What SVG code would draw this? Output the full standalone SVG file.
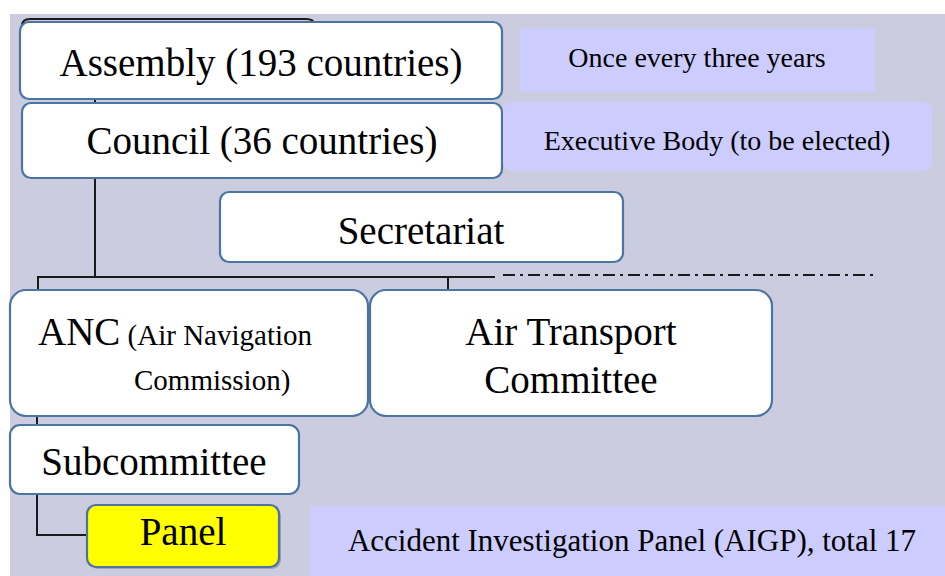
<svg xmlns="http://www.w3.org/2000/svg" width="945" height="576" viewBox="0 0 945 576">
  <style>
    .box { fill: #ffffff; stroke: #4a75a0; stroke-width: 2.2; }
    .note { fill: #ccccff; }
    .wire { fill: none; stroke: #1a1a1a; stroke-width: 2; }
    .dashwire { fill: none; stroke: #1a1a1a; stroke-width: 2; stroke-dasharray: 12 5 3 5; }
    text { font-family: "Liberation Serif", "Times New Roman", serif; fill: #000000; }
    .big { font-size: 39px; }
    .sub { font-size: 29px; }
    .note-text { font-size: 28px; }
    .note-wide { font-size: 31px; }
  </style>

  <!-- page background -->
  <rect x="0" y="0" width="945" height="576" fill="#ffffff"/>
  <rect x="10" y="14" width="935" height="562" fill="#cccce0"/>

  <!-- connectors -->
  <g id="connectors">
    <path class="wire" d="M 22 26 Q 22 19 30 19 L 306 19 Q 314 19 314 24"/>
    <line class="wire" x1="95" y1="99" x2="95" y2="104"/>
    <line class="wire" x1="95" y1="178" x2="95" y2="278"/>
    <line class="wire" x1="38" y1="277" x2="495" y2="277"/>
    <line class="dashwire" x1="503" y1="275" x2="877" y2="275"/>
    <line class="wire" x1="38" y1="276" x2="38" y2="291"/>
    <line class="wire" x1="448" y1="277" x2="448" y2="290"/>
    <line class="wire" x1="37" y1="415" x2="37" y2="426"/>
    <polyline class="wire" points="37,493 37,535 88,535"/>
  </g>

  <g id="assembly">
    <rect class="box" x="20" y="22" width="482" height="77" rx="9"/>
    <text class="big" x="261" y="76" text-anchor="middle">Assembly (193 countries)</text>
  </g>

  <g id="assembly-note">
    <rect class="note" x="520" y="28" width="355" height="64"/>
    <text class="note-text" x="697" y="67" text-anchor="middle">Once every three years</text>
  </g>

  <g id="council">
    <rect class="box" x="22" y="103" width="480" height="75" rx="9"/>
    <text class="big" x="262" y="154" text-anchor="middle">Council (36 countries)</text>
  </g>

  <g id="council-note">
    <rect class="note" x="503" y="102" width="429" height="69" rx="9"/>
    <text class="note-text" x="717" y="150" text-anchor="middle">Executive Body (to be elected)</text>
  </g>

  <g id="secretariat">
    <rect class="box" x="220" y="192" width="403" height="70" rx="9"/>
    <text class="big" x="421" y="244" text-anchor="middle">Secretariat</text>
  </g>

  <g id="anc">
    <rect class="box" x="10" y="290" width="358" height="126" rx="16"/>
    <text x="38" y="345"><tspan class="big">ANC</tspan><tspan class="sub"> (Air Navigation</tspan></text>
    <text class="sub" x="134" y="390">Commission)</text>
  </g>

  <g id="air-transport">
    <rect class="box" x="370" y="290" width="402" height="126" rx="16"/>
    <text class="big" x="571" y="345" text-anchor="middle">Air Transport</text>
    <text class="big" x="571" y="393" text-anchor="middle">Committee</text>
  </g>

  <g id="subcommittee">
    <rect class="box" x="10" y="425" width="289" height="69" rx="10"/>
    <text class="big" x="154" y="475" text-anchor="middle">Subcommittee</text>
  </g>

  <g id="panel">
    <rect x="89" y="507" width="192" height="62" rx="9" fill="#555555" opacity="0.35"/>
    <rect class="box" x="87" y="505" width="192" height="62" rx="9" style="fill:#ffff00"/>
    <text class="big" x="183" y="545" text-anchor="middle">Panel</text>
  </g>

  <g id="panel-note">
    <rect class="note" x="310" y="506" width="635" height="70"/>
    <text class="note-wide" x="632" y="551" text-anchor="middle">Accident Investigation Panel (AIGP), total 17</text>
  </g>
</svg>
